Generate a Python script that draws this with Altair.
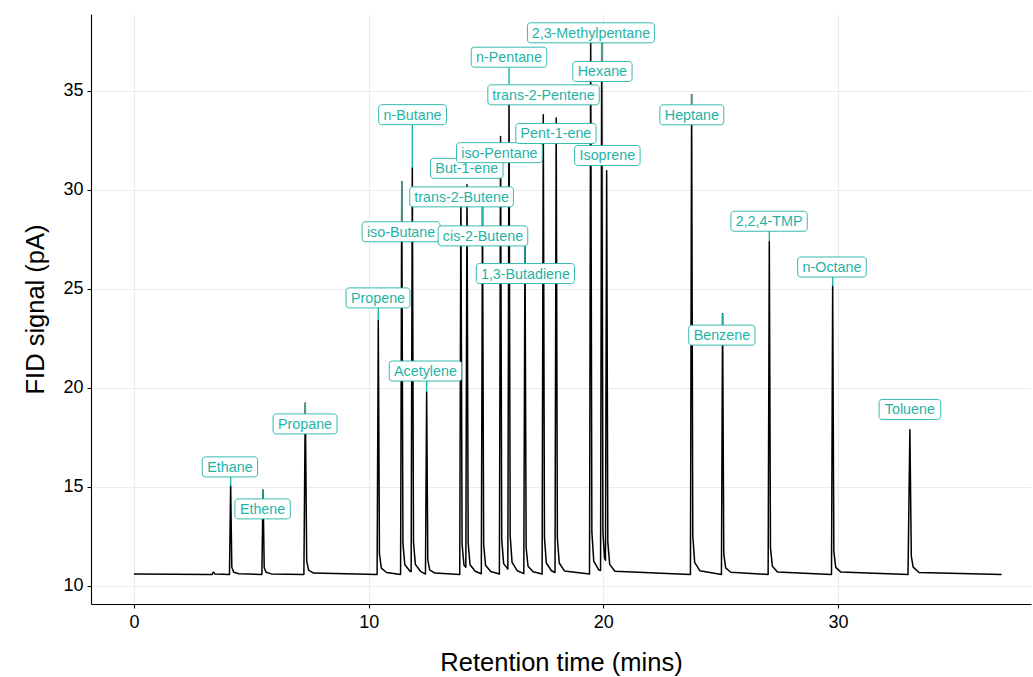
import altair as alt
import pandas as pd

# ---------------- data ----------------
peak_names = ["Ethane", "Ethene", "Propane", "Propene", "iso-Butane", "n-Butane",
              "Acetylene", "trans-2-Butene", "But-1-ene", "cis-2-Butene", "iso-Pentane",
              "n-Pentane", "1,3-Butadiene", "trans-2-Pentene", "Pent-1-ene",
              "2,3-Methylpentane", "Hexane", "Isoprene", "Heptane", "Benzene",
              "2,2,4-TMP", "n-Octane", "Toluene"]
peak_time = [4.12, 5.50, 7.30, 10.41, 11.41, 11.86, 12.47, 13.93, 14.19, 14.85, 15.62,
             15.98, 16.66, 17.44, 17.99, 19.46, 19.93, 20.14, 23.76, 25.08, 27.07, 29.77, 33.06]
peak_height = [15.05, 14.85, 19.23, 23.43, 30.40, 31.11, 19.80, 29.80, 30.25, 29.50, 32.69,
               34.80, 27.50, 33.79, 33.62, 37.50, 37.50, 30.96, 34.80, 23.74, 27.39, 25.15, 17.88]
label_time = [4.09, 5.48, 7.29, 10.40, 11.38, 11.87, 12.42, 13.96, 14.18, 14.87, 15.57,
              15.98, 16.68, 17.45, 17.98, 19.47, 19.96, 20.17, 23.77, 25.05, 27.06, 29.74, 33.06]
label_signal = [16.01, 13.89, 18.18, 24.54, 27.88, 33.79, 20.85, 29.64, 31.08, 27.67, 31.87,
                36.69, 25.77, 34.79, 32.84, 37.92, 35.97, 31.73, 33.78, 22.66, 28.41, 26.10, 18.91]
label_leader = [1, 1, 1, 1, 1, 1, 1, 0, 0, 1, 0, 1, 1, 0, 0, 0, 1, 0, 1, 1, 1, 1, 0]

trace_time = [
    0.00, 3.33, 3.38, 3.45,
    4.07, 4.12, 4.17, 4.25, 4.47,
    5.45, 5.50, 5.55, 5.63, 5.85,
    7.24, 7.30, 7.36, 7.44, 7.65,
    10.36, 10.41, 10.46, 10.54, 10.76,
    11.36, 11.41, 11.46, 11.54, 11.76,
    11.81, 11.86, 11.91, 11.99, 12.21,
    12.42, 12.47, 12.52, 12.60, 12.82,
    13.88, 13.93, 13.98, 14.06,
    14.14, 14.19, 14.24, 14.32, 14.54,
    14.80, 14.85, 14.90, 14.98, 15.20,
    15.57, 15.62, 15.67, 15.75, 15.90,
    15.93, 15.98, 16.03, 16.11, 16.33,
    16.61, 16.66, 16.71, 16.79, 17.01,
    17.39, 17.44, 17.49, 17.57, 17.79,
    17.94, 17.99, 18.04, 18.12, 18.34,
    19.41, 19.46, 19.51, 19.59, 19.81,
    19.88, 19.93, 19.98, 20.05,
    20.09, 20.14, 20.19, 20.27, 20.49,
    23.71, 23.76, 23.81, 23.89, 24.11,
    25.03, 25.08, 25.13, 25.21, 25.43,
    27.02, 27.07, 27.12, 27.20, 27.42,
    29.72, 29.77, 29.82, 29.90, 30.12,
    32.98, 33.06, 33.12, 33.20, 33.45,
    36.97]
trace_signal = [
    10.60, 10.58, 10.70, 10.60,
    10.58, 15.05, 10.94, 10.69, 10.62,
    10.58, 14.85, 10.92, 10.69, 10.61,
    10.58, 19.23, 11.27, 10.80, 10.65,
    10.58, 23.43, 11.61, 10.90, 10.68,
    10.58, 30.40, 12.16, 11.08, 10.74,
    10.73, 31.11, 12.22, 11.09, 10.74,
    10.60, 19.80, 11.32, 10.81, 10.65,
    10.58, 29.80, 12.12, 11.06,
    10.95, 30.25, 12.16, 11.07, 10.74,
    10.62, 29.50, 12.09, 11.05, 10.73,
    10.60, 32.69, 12.35, 11.13, 10.90,
    10.85, 34.80, 12.52, 11.19, 10.77,
    10.62, 27.50, 11.93, 11.00, 10.72,
    10.60, 33.79, 12.44, 11.16, 10.77,
    10.68, 33.62, 12.42, 11.16, 10.76,
    10.60, 37.50, 12.73, 11.25, 10.80,
    10.78, 37.50, 12.73, 11.40,
    11.30, 30.96, 12.21, 11.09, 10.74,
    10.58, 34.80, 12.52, 11.19, 10.77,
    10.58, 23.74, 11.63, 10.91, 10.69,
    10.58, 27.39, 11.92, 11.00, 10.71,
    10.58, 25.15, 11.75, 10.94, 10.70,
    10.58, 17.88, 11.50, 10.95, 10.68,
    10.58]

x_ticks = [0, 10, 20, 30]
y_ticks = [10, 15, 20, 25, 30, 35]

# ---------------- layout / style ----------------
W, H = 940, 590
X_DOM = [-1.83, 38.22]
Y_DOM = [9.09, 38.87]
TEAL = "#1fb3a6"
FONT = "Liberation Sans"
LABEL_SIZE = 14.3

# Arial / Liberation Sans advance widths (per 1000 em) for label boxes
ADV = {"E": 667, "t": 278, "h": 556, "a": 556, "n": 556, "e": 556, "P": 667, "r": 333,
       "o": 556, "p": 556, "i": 222, "s": 500, "-": 333, "B": 667, "u": 556, "A": 667,
       "c": 500, "y": 500, "l": 222, "2": 556, "1": 556, "3": 556, ",": 278, "d": 556,
       "M": 833, "H": 722, "x": 500, "I": 278, "z": 500, "4": 556, "T": 611, "O": 778}

px_per_x = W / (X_DOM[1] - X_DOM[0])
px_per_y = H / (Y_DOM[1] - Y_DOM[0])

trace = pd.DataFrame({"time": trace_time, "signal": trace_signal})

rows = []
for nm, pt, ph, lt, ls, ld in zip(peak_names, peak_time, peak_height,
                                   label_time, label_signal, label_leader):
    tw = sum(ADV.get(c, 556) for c in nm) * 14 / 1000.0
    half_w = (tw + 11) / 2.0 / px_per_x
    half_h = 10.0 / px_per_y
    rows.append({"name": nm, "peak_time": pt, "peak_height": ph,
                 "label_time": lt, "label_signal": ls, "leader": ld,
                 "bx1": lt - half_w, "bx2": lt + half_w,
                 "by1": ls - half_h, "by2": ls + half_h})
labels = pd.DataFrame(rows)

x_axis = alt.Axis(values=x_ticks, title="Retention time (mins)", format="d",
                  grid=True, gridColor="#ebebeb", gridWidth=1.1,
                  domainColor="black", domainWidth=1.1, tickColor="black", tickSize=4,
                  tickWidth=1.1, labelFontSize=18, labelColor="black", labelFont=FONT,
                  labelPadding=5, titleFontSize=25.5, titleFont=FONT, titleColor="black",
                  titleFontWeight="normal", titlePadding=19)
y_axis = alt.Axis(values=y_ticks, title="FID signal (pA)", format="d",
                  grid=True, gridColor="#ebebeb", gridWidth=1.1,
                  domainColor="black", domainWidth=1.1, tickColor="black", tickSize=4,
                  tickWidth=1.1, labelFontSize=18, labelColor="black", labelFont=FONT,
                  labelPadding=4, titleFontSize=25.5, titleFont=FONT, titleColor="black",
                  titleFontWeight="normal", titlePadding=14)
xs = alt.Scale(domain=X_DOM, nice=False, zero=False)
ys = alt.Scale(domain=Y_DOM, nice=False, zero=False)

line = alt.Chart(trace).mark_line(color="black", strokeWidth=1.5, strokeJoin="round",
                                  clip=True).encode(
    x=alt.X("time:Q", scale=xs, axis=x_axis),
    y=alt.Y("signal:Q", scale=ys, axis=y_axis),
    order="time:Q")

leaders = alt.Chart(labels).transform_filter("datum.leader == 1").mark_rule(
    color=TEAL, strokeWidth=1.4, clip=True).encode(
    x=alt.X("peak_time:Q", scale=xs, axis=x_axis),
    y=alt.Y("peak_height:Q", scale=ys, axis=y_axis),
    y2="label_signal:Q")

boxes = alt.Chart(labels).mark_rect(fill="white", stroke=TEAL, strokeWidth=0.9,
                                    cornerRadius=3, clip=True).encode(
    x=alt.X("bx1:Q", scale=xs, axis=x_axis), x2="bx2:Q",
    y=alt.Y("by1:Q", scale=ys, axis=y_axis), y2="by2:Q")

texts = alt.Chart(labels).mark_text(color=TEAL, fontSize=LABEL_SIZE, font=FONT,
                                    baseline="middle", align="center", dy=1,
                                    clip=True).encode(
    x=alt.X("label_time:Q", scale=xs, axis=x_axis),
    y=alt.Y("label_signal:Q", scale=ys, axis=y_axis),
    text="name:N")

chart = alt.layer(line, leaders, boxes, texts).properties(
    width=W, height=H,
    autosize=alt.AutoSizeParams(type="none"),
    padding={"left": 91, "top": 14, "right": 2, "bottom": 73},
    background="white",
).configure_view(stroke=None)

chart.save("out.html", embed_options={"renderer": "svg", "actions": False})
